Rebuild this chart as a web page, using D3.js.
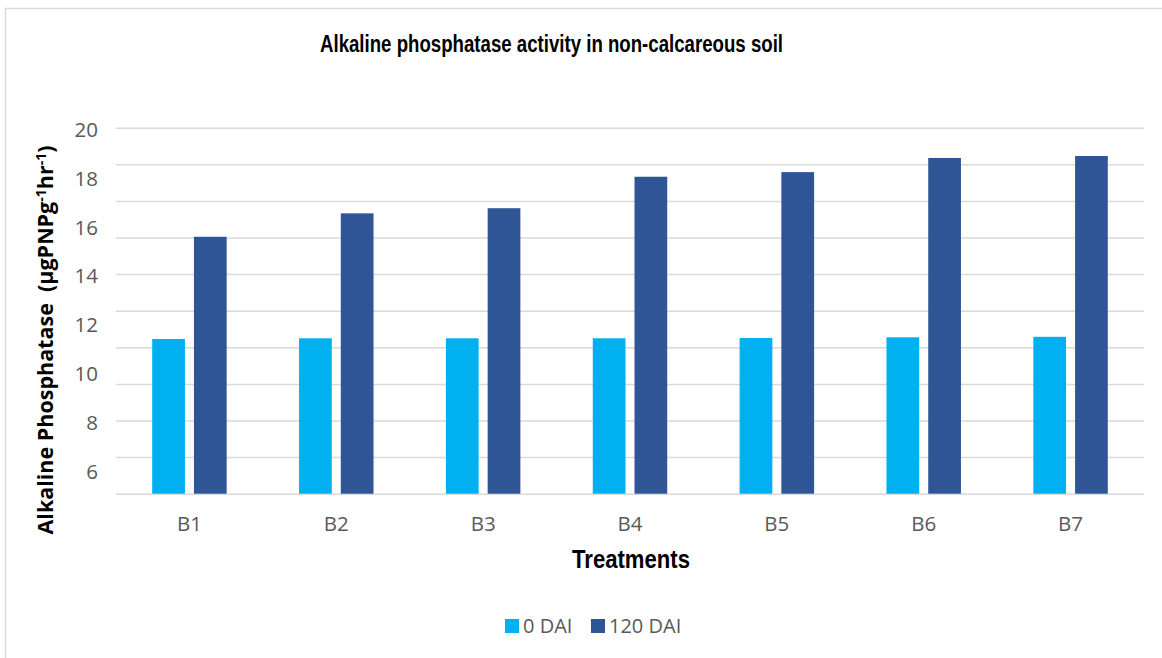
<!DOCTYPE html>
<html>
<head>
<meta charset="utf-8">
<script src="https://cdn.jsdelivr.net/npm/d3@7/dist/d3.min.js"></script>
<style>
  html, body { margin: 0; padding: 0; background: #fff; }
  svg { display: block; }
</style>
</head>
<body>
<svg id="chart" width="1162" height="658"></svg>
<script>
const categories = ["B1", "B2", "B3", "B4", "B5", "B6", "B7"];
const seriesNames = ["0 DAI", "120 DAI"];
const dai0 = [11.34, 11.37, 11.37, 11.37, 11.38, 11.41, 11.43];
const dai120 = [15.53, 16.49, 16.70, 17.99, 18.18, 18.76, 18.84];
const tickLabels = [6, 8, 10, 12, 14, 16, 18, 20];
const gridValues = [5, 6.5, 8, 9.5, 11, 12.5, 14, 15.5, 17, 18.5, 20];
const yDomain = [5, 20];
const colors = ["#00B0F0", "#2F5597"];
const titleText = "Alkaline phosphatase activity in non-calcareous soil";
const xTitle = "Treatments";

const svg = d3.select("#chart");
const plot = { left: 116, right: 1144, top: 127.7, bottom: 493.7 };

// outer border
svg.append("rect")
  .attr("x", 5.5).attr("y", 8.5)
  .attr("width", 1170).attr("height", 670)
  .attr("fill", "#fff").attr("stroke", "#d9d9d9").attr("stroke-width", 1.5);

const y = d3.scaleLinear().domain(yDomain).range([plot.bottom, plot.top]);
const x0 = d3.scaleBand().domain(categories).range([plot.left, plot.right]).paddingInner(0).paddingOuter(0);
const x1 = d3.scaleBand().domain(seriesNames).range([0, x0.bandwidth()]).paddingInner(0.216).paddingOuter(0.867);
const color = d3.scaleOrdinal().domain(seriesNames).range(colors);

// gridlines
const grid = svg.append("g").attr("transform", `translate(${plot.left},0)`)
  .call(d3.axisLeft(y).tickValues(gridValues).tickSize(-(plot.right - plot.left)).tickFormat(""));
grid.select(".domain").remove();
grid.selectAll("line").attr("stroke", "#d9d9d9").attr("stroke-width", 1.5);

// y tick labels
const yAxis = svg.append("g").attr("transform", `translate(98,0)`)
  .call(d3.axisLeft(y).tickValues(tickLabels).tickSize(0).tickPadding(0).tickFormat(d3.format("d")));
yAxis.select(".domain").remove();
yAxis.selectAll("text")
  .attr("dy", "0.36em").attr("transform", "translate(0,1.5)")
  .attr("fill", "#595959")
  .style("font-family", "'Open Sans', 'Noto Sans', sans-serif")
  .style("font-size", "20.5px");

// x labels
const xAxis = svg.append("g").attr("transform", `translate(0,${plot.bottom})`)
  .call(d3.axisBottom(x0).tickSize(0).tickPadding(0));
xAxis.select(".domain").remove();
xAxis.selectAll("text")
  .attr("y", 37).attr("dy", 0)
  .attr("fill", "#595959")
  .style("font-family", "'Open Sans', 'Noto Sans', sans-serif")
  .style("font-size", "20.5px");

// bars
const rows = categories.map((c, i) => ({ cat: c, values: [dai0[i], dai120[i]] }));
const groups = svg.append("g").selectAll("g").data(rows).join("g")
  .attr("transform", d => `translate(${x0(d.cat)},0)`);
groups.selectAll("rect")
  .data(d => d.values.map((v, j) => ({ key: seriesNames[j], value: v })))
  .join("rect")
  .attr("x", d => x1(d.key))
  .attr("width", x1.bandwidth())
  .attr("y", d => y(d.value))
  .attr("height", d => y(yDomain[0]) - y(d.value))
  .attr("fill", d => color(d.key));

// title
svg.append("text")
  .attr("x", 320).attr("y", 52)
  .attr("fill", "#000")
  .attr("textLength", 463).attr("lengthAdjust", "spacingAndGlyphs")
  .style("font-family", "'Liberation Sans Narrow', 'Arial Narrow', sans-serif")
  .style("font-weight", "bold")
  .style("font-size", "23px")
  .text(titleText);

// x title
svg.append("text")
  .attr("x", 572).attr("y", 568)
  .attr("fill", "#000")
  .attr("textLength", 118).attr("lengthAdjust", "spacingAndGlyphs")
  .style("font-family", "'Liberation Sans Narrow', 'Arial Narrow', sans-serif")
  .style("font-weight", "bold")
  .style("font-size", "25px")
  .text(xTitle);

// y title
const yt = svg.append("text")
  .attr("transform", "translate(53,340) rotate(-90)")
  .attr("text-anchor", "middle")
  .attr("fill", "#000")
  .style("font-family", "'Open Sans', 'Noto Sans', sans-serif")
  .style("font-weight", "bold")
  .style("font-size", "21.5px")
  .attr("xml:space", "preserve");
yt.append("tspan").text("Alkaline Phosphatase  (µgPNPg");
yt.append("tspan").attr("dy", -7).style("font-size", "14px").text("-1");
yt.append("tspan").attr("dy", 7).text("hr");
yt.append("tspan").attr("dy", -7).style("font-size", "14px").text("-1");
yt.append("tspan").attr("dy", 7).text(")");

// legend
const legendItems = [
  { key: seriesNames[0], x: 505 },
  { key: seriesNames[1], x: 591 }
];
const lg = svg.append("g").selectAll("g").data(legendItems).join("g")
  .attr("transform", d => `translate(${d.x},619)`);
lg.append("rect").attr("width", 14).attr("height", 14).attr("fill", d => color(d.key));
lg.append("text")
  .attr("x", 18).attr("y", 14)
  .attr("fill", "#595959")
  .style("font-family", "'Open Sans', 'Noto Sans', sans-serif")
  .style("font-size", "20px")
  .text(d => d.key);
</script>
</body>
</html>
